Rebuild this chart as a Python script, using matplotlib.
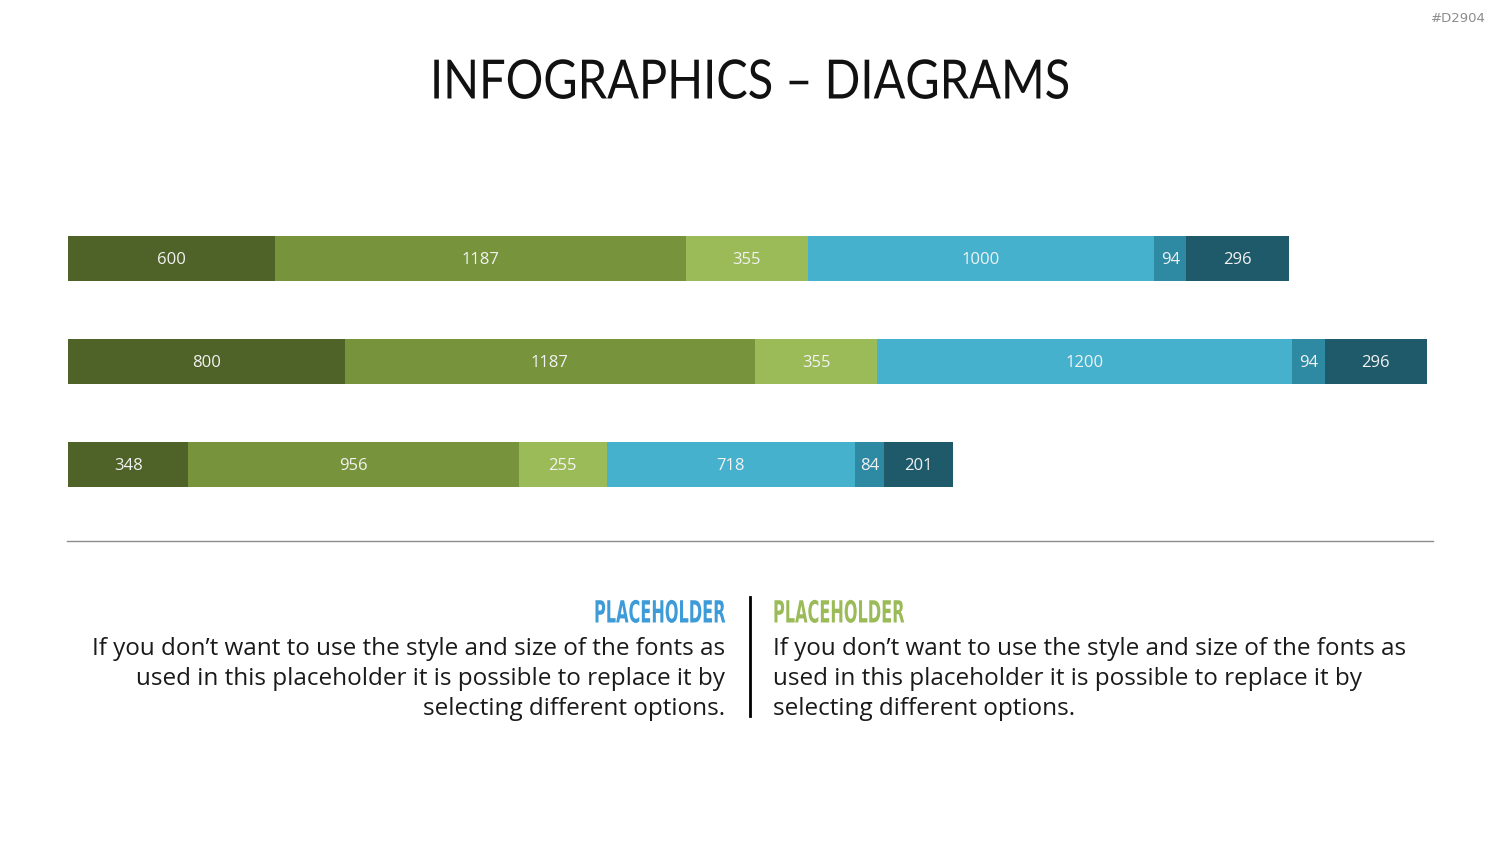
import matplotlib.pyplot as plt
import numpy as np
from matplotlib.patheffects import AbstractPathEffect
from matplotlib.transforms import Affine2D

W, H = 1500, 844

rows = ["row1", "row2", "row3"]
segments = ["s1", "s2", "s3", "s4", "s5", "s6"]
values = [
    [600, 1187, 355, 1000, 94, 296],
    [800, 1187, 355, 1200, 94, 296],
    [348, 956, 255, 718, 84, 201],
]
colors = ["#4F6228", "#77933C", "#9BBB59", "#46B1CD", "#2E8AA3", "#1F5A6B"]

title = "INFOGRAPHICS \u2013 DIAGRAMS"
tag = "#D2904"
heading = "PLACEHOLDER"
body = ("If you don\u2019t want to use the style and size of the fonts as\n"
        "used in this placeholder it is possible to replace it by\n"
        "selecting different options.")


class Squeeze(AbstractPathEffect):
    """Horizontally scale text around an x anchor (display pixels)."""

    def __init__(self, sx=1.0, x0=0.0):
        super().__init__()
        self.sx = sx
        self.x0 = x0

    def draw_path(self, renderer, gc, tpath, affine, rgbFace=None):
        aff = affine + Affine2D().translate(-self.x0, 0).scale(self.sx, 1).translate(self.x0, 0)
        renderer.draw_path(gc, tpath, aff, rgbFace)


fig = plt.figure(figsize=(W / 100, H / 100), dpi=100)
fig.patch.set_facecolor("white")


def fx(px):
    return px / W


def fy(py):
    return 1 - py / H


# bars area: x 68..1427 px, rows centred at 258.5 / 361.5 / 464.5 px
ax = fig.add_axes([fx(68), fy(516), fx(1427) - fx(68), (516 - 207) / H])
data = np.array(values, dtype=float)
xmax = data.sum(axis=1).max()
ypos = np.arange(len(rows))
left = np.zeros(len(rows))
for j in range(data.shape[1]):
    ax.barh(ypos, data[:, j], left=left, height=45 / 103, color=colors[j],
            edgecolor="none")
    for i in range(len(rows)):
        ax.text(left[i] + data[i, j] / 2, ypos[i] + 0.015, f"{int(data[i, j])}",
                ha="center", va="center", color="#F2F2F2", fontsize=12,
                family="Open Sans")
    left += data[:, j]
ax.set_xlim(0, xmax)
ax.set_ylim(len(rows) - 0.5, -0.5)
ax.axis("off")

t_title = fig.text(0.5, fy(83), title, ha="center", va="center", fontsize=39,
                   family="Lato", weight="normal", color="#111111")
fig.text(fx(1486), fy(19), tag, ha="right", va="center", fontsize=9.5,
         color="#8C8C8C", family="DejaVu Sans")

# separator lines
fig.add_artist(plt.Line2D([fx(67), fx(1433)], [fy(541), fy(541)],
                          color="#8C8C8C", linewidth=1))
fig.add_artist(plt.Line2D([fx(750), fx(750)], [fy(597), fy(716)],
                          color="black", linewidth=2))

h_left = fig.text(fx(725), fy(614), heading, ha="right", va="center", fontsize=22,
                  family="DejaVu Sans", weight="bold", color="#3D9CD8")
h_right = fig.text(fx(773), fy(614), heading, ha="left", va="center", fontsize=22,
                   family="DejaVu Sans", weight="bold", color="#9BBB59")
fig.text(fx(725), fy(637), body, ha="right", va="top", fontsize=17.5,
         family="Open Sans", color="#1A1A1A", linespacing=1.33,
         multialignment="right")
fig.text(fx(773), fy(637), body, ha="left", va="top", fontsize=17.5,
         family="Open Sans", color="#1A1A1A", linespacing=1.33,
         multialignment="left")

# squeeze title and headings to the narrow widths of the original fonts
fig.canvas.draw()
rend = fig.canvas.get_renderer()
for txt, x0, target in [(t_title, W / 2, 640), (h_left, 725, 131), (h_right, 773, 131)]:
    wpx = txt.get_window_extent(rend).width
    txt.set_path_effects([Squeeze(target / wpx, x0)])

fig.savefig("out.png", dpi=100, facecolor="white")
